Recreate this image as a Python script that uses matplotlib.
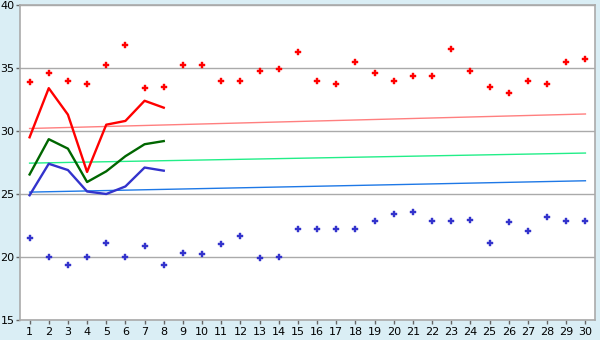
import matplotlib
matplotlib.use("Agg")
import matplotlib.pyplot as plt

days = list(range(1, 31))

max_pts = [33.9, 34.6, 34.0, 33.7, 35.2, 36.8, 33.4, 33.5, 35.2, 35.2,
           34.0, 34.0, 34.8, 34.9, 36.3, 34.0, 33.7, 35.45, 34.6, 34.0,
           34.4, 34.4, 36.5, 34.75, 33.5, 33.0, 34.0, 33.7, 35.5, 35.7]
min_pts = [21.5, 20.0, 19.35, 20.0, 21.1, 20.0, 20.85, 19.35, 20.3, 20.2,
           21.0, 21.65, 19.9, 20.0, 22.2, 22.2, 22.2, 22.2, 22.85, 23.4,
           23.55, 22.85, 22.85, 22.9, 21.1, 22.75, 22.05, 23.15, 22.85, 22.85]

line_days = [1, 2, 3, 4, 5, 6, 7, 8]
red_line = [29.5, 33.4, 31.3, 26.75, 30.5, 30.8, 32.4, 31.85]
green_line = [26.55, 29.35, 28.6, 25.95, 26.8, 28.0, 28.95, 29.2]
blue_line = [24.9, 27.4, 26.9, 25.2, 25.0, 25.6, 27.1, 26.85]

trend_days = [1, 30]
red_trend = [30.2, 31.35]
green_trend = [27.45, 28.25]
blue_trend = [25.15, 26.05]

fig = plt.figure(figsize=(6, 3.4), dpi=100, facecolor="#daeef5")
ax = fig.add_axes([20/600, 20/340, 575/600, 315/340])
ax.set_facecolor("white")

ax.plot(trend_days, red_trend, color="#ff7f7f", lw=1)
ax.plot(trend_days, green_trend, color="#22ee88", lw=1)
ax.plot(trend_days, blue_trend, color="#1e78e6", lw=1)

ax.plot(line_days, red_line, color="#ff0000", lw=1.7)
ax.plot(line_days, green_line, color="#006600", lw=1.7)
ax.plot(line_days, blue_line, color="#3333cc", lw=1.7)

ax.plot(days, max_pts, ls="none", marker="P", ms=4.5, color="#ff0000", mew=0.3)
ax.plot(days, min_pts, ls="none", marker="P", ms=4.5, color="#3333cc", mew=0.3)

ax.set_xlim(0.5, 30.5)
ax.set_ylim(15, 40)
ax.set_xticks(days)
ax.set_yticks([15, 20, 25, 30, 35, 40])
ax.grid(axis="y", color="#aaaaaa", lw=1)
ax.set_axisbelow(True)
for s in ax.spines.values():
    s.set_color("#aaaaaa")
    s.set_linewidth(1.2)
ax.tick_params(colors="#666666", labelcolor="black", labelsize=8, length=3, width=1)
ax.tick_params(axis="y", pad=1)
ax.tick_params(axis="x", pad=2)

fig.savefig("out.png", dpi=100, facecolor=fig.get_facecolor())
